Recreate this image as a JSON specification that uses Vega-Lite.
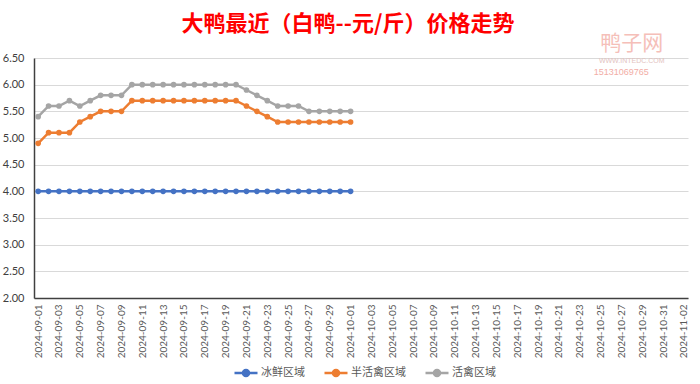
{
  "$schema": "https://vega.github.io/schema/vega-lite/v6.json",
  "autosize": {"type": "none"},
  "width": 654,
  "height": 240,
  "padding": {"left": 34, "top": 58, "right": 12, "bottom": 86},
  "background": "white",
  "title": {
    "text": "大鸭最近（白鸭--元/斤）价格走势",
    "font": "Noto Sans CJK SC",
    "fontSize": 22,
    "fontWeight": "bold",
    "color": "#FF0000",
    "anchor": "middle",
    "frame": "group",
    "dx": -13,
    "dy": 3,
    "offset": 0
  },
  "config": {
    "view": {"stroke": null},
    "font": "Noto Sans CJK SC",
    "axisY": {
      "title": null,
      "values": [2, 2.5, 3, 3.5, 4, 4.5, 5, 5.5, 6, 6.5],
      "format": ".2f",
      "labelFont": "Lato",
      "labelFontSize": 11,
      "labelColor": "#404040",
      "labelPadding": 10,
      "labelOverlap": false,
      "ticks": false,
      "gridColor": "#D9D9D9",
      "gridWidth": 1,
      "domainColor": "#404040",
      "domainWidth": 1.5
    },
    "axisX": {
      "title": null,
      "labelAngle": -90,
      "labelFont": "Lato",
      "labelFontSize": 10,
      "labelColor": "#595959",
      "labelPadding": 6,
      "labelOverlap": false,
      "ticks": false,
      "grid": false,
      "domainColor": "#404040",
      "domainWidth": 1.5
    }
  },
  "datasets": {
    "prices": [
      {"date": "2024-09-01", "series": "冰鲜区域", "price": 4.0},
      {"date": "2024-09-02", "series": "冰鲜区域", "price": 4.0},
      {"date": "2024-09-03", "series": "冰鲜区域", "price": 4.0},
      {"date": "2024-09-04", "series": "冰鲜区域", "price": 4.0},
      {"date": "2024-09-05", "series": "冰鲜区域", "price": 4.0},
      {"date": "2024-09-06", "series": "冰鲜区域", "price": 4.0},
      {"date": "2024-09-07", "series": "冰鲜区域", "price": 4.0},
      {"date": "2024-09-08", "series": "冰鲜区域", "price": 4.0},
      {"date": "2024-09-09", "series": "冰鲜区域", "price": 4.0},
      {"date": "2024-09-10", "series": "冰鲜区域", "price": 4.0},
      {"date": "2024-09-11", "series": "冰鲜区域", "price": 4.0},
      {"date": "2024-09-12", "series": "冰鲜区域", "price": 4.0},
      {"date": "2024-09-13", "series": "冰鲜区域", "price": 4.0},
      {"date": "2024-09-14", "series": "冰鲜区域", "price": 4.0},
      {"date": "2024-09-15", "series": "冰鲜区域", "price": 4.0},
      {"date": "2024-09-16", "series": "冰鲜区域", "price": 4.0},
      {"date": "2024-09-17", "series": "冰鲜区域", "price": 4.0},
      {"date": "2024-09-18", "series": "冰鲜区域", "price": 4.0},
      {"date": "2024-09-19", "series": "冰鲜区域", "price": 4.0},
      {"date": "2024-09-20", "series": "冰鲜区域", "price": 4.0},
      {"date": "2024-09-21", "series": "冰鲜区域", "price": 4.0},
      {"date": "2024-09-22", "series": "冰鲜区域", "price": 4.0},
      {"date": "2024-09-23", "series": "冰鲜区域", "price": 4.0},
      {"date": "2024-09-24", "series": "冰鲜区域", "price": 4.0},
      {"date": "2024-09-25", "series": "冰鲜区域", "price": 4.0},
      {"date": "2024-09-26", "series": "冰鲜区域", "price": 4.0},
      {"date": "2024-09-27", "series": "冰鲜区域", "price": 4.0},
      {"date": "2024-09-28", "series": "冰鲜区域", "price": 4.0},
      {"date": "2024-09-29", "series": "冰鲜区域", "price": 4.0},
      {"date": "2024-09-30", "series": "冰鲜区域", "price": 4.0},
      {"date": "2024-10-01", "series": "冰鲜区域", "price": 4.0},
      {"date": "2024-09-01", "series": "半活禽区域", "price": 4.9},
      {"date": "2024-09-02", "series": "半活禽区域", "price": 5.1},
      {"date": "2024-09-03", "series": "半活禽区域", "price": 5.1},
      {"date": "2024-09-04", "series": "半活禽区域", "price": 5.1},
      {"date": "2024-09-05", "series": "半活禽区域", "price": 5.3},
      {"date": "2024-09-06", "series": "半活禽区域", "price": 5.4},
      {"date": "2024-09-07", "series": "半活禽区域", "price": 5.5},
      {"date": "2024-09-08", "series": "半活禽区域", "price": 5.5},
      {"date": "2024-09-09", "series": "半活禽区域", "price": 5.5},
      {"date": "2024-09-10", "series": "半活禽区域", "price": 5.7},
      {"date": "2024-09-11", "series": "半活禽区域", "price": 5.7},
      {"date": "2024-09-12", "series": "半活禽区域", "price": 5.7},
      {"date": "2024-09-13", "series": "半活禽区域", "price": 5.7},
      {"date": "2024-09-14", "series": "半活禽区域", "price": 5.7},
      {"date": "2024-09-15", "series": "半活禽区域", "price": 5.7},
      {"date": "2024-09-16", "series": "半活禽区域", "price": 5.7},
      {"date": "2024-09-17", "series": "半活禽区域", "price": 5.7},
      {"date": "2024-09-18", "series": "半活禽区域", "price": 5.7},
      {"date": "2024-09-19", "series": "半活禽区域", "price": 5.7},
      {"date": "2024-09-20", "series": "半活禽区域", "price": 5.7},
      {"date": "2024-09-21", "series": "半活禽区域", "price": 5.6},
      {"date": "2024-09-22", "series": "半活禽区域", "price": 5.5},
      {"date": "2024-09-23", "series": "半活禽区域", "price": 5.4},
      {"date": "2024-09-24", "series": "半活禽区域", "price": 5.3},
      {"date": "2024-09-25", "series": "半活禽区域", "price": 5.3},
      {"date": "2024-09-26", "series": "半活禽区域", "price": 5.3},
      {"date": "2024-09-27", "series": "半活禽区域", "price": 5.3},
      {"date": "2024-09-28", "series": "半活禽区域", "price": 5.3},
      {"date": "2024-09-29", "series": "半活禽区域", "price": 5.3},
      {"date": "2024-09-30", "series": "半活禽区域", "price": 5.3},
      {"date": "2024-10-01", "series": "半活禽区域", "price": 5.3},
      {"date": "2024-09-01", "series": "活禽区域", "price": 5.4},
      {"date": "2024-09-02", "series": "活禽区域", "price": 5.6},
      {"date": "2024-09-03", "series": "活禽区域", "price": 5.6},
      {"date": "2024-09-04", "series": "活禽区域", "price": 5.7},
      {"date": "2024-09-05", "series": "活禽区域", "price": 5.6},
      {"date": "2024-09-06", "series": "活禽区域", "price": 5.7},
      {"date": "2024-09-07", "series": "活禽区域", "price": 5.8},
      {"date": "2024-09-08", "series": "活禽区域", "price": 5.8},
      {"date": "2024-09-09", "series": "活禽区域", "price": 5.8},
      {"date": "2024-09-10", "series": "活禽区域", "price": 6.0},
      {"date": "2024-09-11", "series": "活禽区域", "price": 6.0},
      {"date": "2024-09-12", "series": "活禽区域", "price": 6.0},
      {"date": "2024-09-13", "series": "活禽区域", "price": 6.0},
      {"date": "2024-09-14", "series": "活禽区域", "price": 6.0},
      {"date": "2024-09-15", "series": "活禽区域", "price": 6.0},
      {"date": "2024-09-16", "series": "活禽区域", "price": 6.0},
      {"date": "2024-09-17", "series": "活禽区域", "price": 6.0},
      {"date": "2024-09-18", "series": "活禽区域", "price": 6.0},
      {"date": "2024-09-19", "series": "活禽区域", "price": 6.0},
      {"date": "2024-09-20", "series": "活禽区域", "price": 6.0},
      {"date": "2024-09-21", "series": "活禽区域", "price": 5.9},
      {"date": "2024-09-22", "series": "活禽区域", "price": 5.8},
      {"date": "2024-09-23", "series": "活禽区域", "price": 5.7},
      {"date": "2024-09-24", "series": "活禽区域", "price": 5.6},
      {"date": "2024-09-25", "series": "活禽区域", "price": 5.6},
      {"date": "2024-09-26", "series": "活禽区域", "price": 5.6},
      {"date": "2024-09-27", "series": "活禽区域", "price": 5.5},
      {"date": "2024-09-28", "series": "活禽区域", "price": 5.5},
      {"date": "2024-09-29", "series": "活禽区域", "price": 5.5},
      {"date": "2024-09-30", "series": "活禽区域", "price": 5.5},
      {"date": "2024-10-01", "series": "活禽区域", "price": 5.5}
    ],
    "mark1": [{"label": "鸭子网"}],
    "mark2": [{"label": "WWW.INTEDC.COM"}],
    "mark3": [{"label": "15131069765"}]
  },
  "layer": [
    {
      "data": {"name": "prices"},
      "mark": {"type": "line", "strokeWidth": 2.5, "point": {"filled": true, "size": 32}},
      "encoding": {
        "x": {
          "field": "date",
          "type": "ordinal",
          "scale": {
            "type": "point",
            "padding": 0.4,
            "domain": ["2024-09-01","2024-09-02","2024-09-03","2024-09-04","2024-09-05","2024-09-06","2024-09-07","2024-09-08","2024-09-09","2024-09-10","2024-09-11","2024-09-12","2024-09-13","2024-09-14","2024-09-15","2024-09-16","2024-09-17","2024-09-18","2024-09-19","2024-09-20","2024-09-21","2024-09-22","2024-09-23","2024-09-24","2024-09-25","2024-09-26","2024-09-27","2024-09-28","2024-09-29","2024-09-30","2024-10-01","2024-10-02","2024-10-03","2024-10-04","2024-10-05","2024-10-06","2024-10-07","2024-10-08","2024-10-09","2024-10-10","2024-10-11","2024-10-12","2024-10-13","2024-10-14","2024-10-15","2024-10-16","2024-10-17","2024-10-18","2024-10-19","2024-10-20","2024-10-21","2024-10-22","2024-10-23","2024-10-24","2024-10-25","2024-10-26","2024-10-27","2024-10-28","2024-10-29","2024-10-30","2024-10-31","2024-11-01","2024-11-02"]
          },
          "axis": {
            "values": ["2024-09-01","2024-09-03","2024-09-05","2024-09-07","2024-09-09","2024-09-11","2024-09-13","2024-09-15","2024-09-17","2024-09-19","2024-09-21","2024-09-23","2024-09-25","2024-09-27","2024-09-29","2024-10-01","2024-10-03","2024-10-05","2024-10-07","2024-10-09","2024-10-11","2024-10-13","2024-10-15","2024-10-17","2024-10-19","2024-10-21","2024-10-23","2024-10-25","2024-10-27","2024-10-29","2024-10-31","2024-11-02"]
          }
        },
        "y": {
          "field": "price",
          "type": "quantitative",
          "scale": {"domain": [2, 6.5], "nice": false, "zero": false},
          "axis": {"values": [2, 2.5, 3, 3.5, 4, 4.5, 5, 5.5, 6, 6.5]}
        },
        "color": {
          "field": "series",
          "type": "nominal",
          "scale": {"domain": ["冰鲜区域", "半活禽区域", "活禽区域"], "range": ["#4472C4", "#ED7D31", "#A5A5A5"]},
          "legend": {
            "title": null,
            "orient": "none",
            "direction": "horizontal",
            "legendX": 199,
            "legendY": 302,
            "symbolType": "M-1,0L1,0M-0.26,0A0.26,0.26 0 1,1 0.26,0A0.26,0.26 0 1,1 -0.26,0Z",
            "symbolSize": 529,
            "symbolStrokeWidth": 2.5,
            "labelFont": "Noto Sans CJK SC",
            "labelFontSize": 11,
            "labelColor": "#595959",
            "labelOffset": 2,
            "columnPadding": 14,
            "encode": {"symbols": {"update": {"fill": {"scale": "color", "field": "value"}}}}
          }
        }
      }
    },
    {
      "data": {"name": "mark1"},
      "mark": {"type": "text", "font": "Noto Sans CJK SC", "fontSize": 21, "color": "#F4B5AD", "opacity": 0.85},
      "encoding": {
        "x": {"datum": "2024-10-28", "axis": {"values": ["2024-09-01","2024-09-03","2024-09-05","2024-09-07","2024-09-09","2024-09-11","2024-09-13","2024-09-15","2024-09-17","2024-09-19","2024-09-21","2024-09-23","2024-09-25","2024-09-27","2024-09-29","2024-10-01","2024-10-03","2024-10-05","2024-10-07","2024-10-09","2024-10-11","2024-10-13","2024-10-15","2024-10-17","2024-10-19","2024-10-21","2024-10-23","2024-10-25","2024-10-27","2024-10-29","2024-10-31","2024-11-02"]}},
        "y": {"datum": 6.76, "axis": {"values": [2, 2.5, 3, 3.5, 4, 4.5, 5, 5.5, 6, 6.5]}},
        "text": {"field": "label"}
      }
    },
    {
      "data": {"name": "mark2"},
      "mark": {"type": "text", "font": "Liberation Sans", "fontSize": 7, "color": "#E3C3BF"},
      "encoding": {
        "x": {"datum": "2024-10-28", "axis": {"values": ["2024-09-01","2024-09-03","2024-09-05","2024-09-07","2024-09-09","2024-09-11","2024-09-13","2024-09-15","2024-09-17","2024-09-19","2024-09-21","2024-09-23","2024-09-25","2024-09-27","2024-09-29","2024-10-01","2024-10-03","2024-10-05","2024-10-07","2024-10-09","2024-10-11","2024-10-13","2024-10-15","2024-10-17","2024-10-19","2024-10-21","2024-10-23","2024-10-25","2024-10-27","2024-10-29","2024-10-31","2024-11-02"]}},
        "y": {"datum": 6.45, "axis": {"values": [2, 2.5, 3, 3.5, 4, 4.5, 5, 5.5, 6, 6.5]}},
        "text": {"field": "label"}
      }
    },
    {
      "data": {"name": "mark3"},
      "mark": {"type": "text", "font": "Liberation Sans", "fontSize": 9, "color": "#F2ADA5"},
      "encoding": {
        "x": {"datum": "2024-10-27", "axis": {"values": ["2024-09-01","2024-09-03","2024-09-05","2024-09-07","2024-09-09","2024-09-11","2024-09-13","2024-09-15","2024-09-17","2024-09-19","2024-09-21","2024-09-23","2024-09-25","2024-09-27","2024-09-29","2024-10-01","2024-10-03","2024-10-05","2024-10-07","2024-10-09","2024-10-11","2024-10-13","2024-10-15","2024-10-17","2024-10-19","2024-10-21","2024-10-23","2024-10-25","2024-10-27","2024-10-29","2024-10-31","2024-11-02"]}},
        "y": {"datum": 6.24, "axis": {"values": [2, 2.5, 3, 3.5, 4, 4.5, 5, 5.5, 6, 6.5]}},
        "text": {"field": "label"}
      }
    }
  ]
}
